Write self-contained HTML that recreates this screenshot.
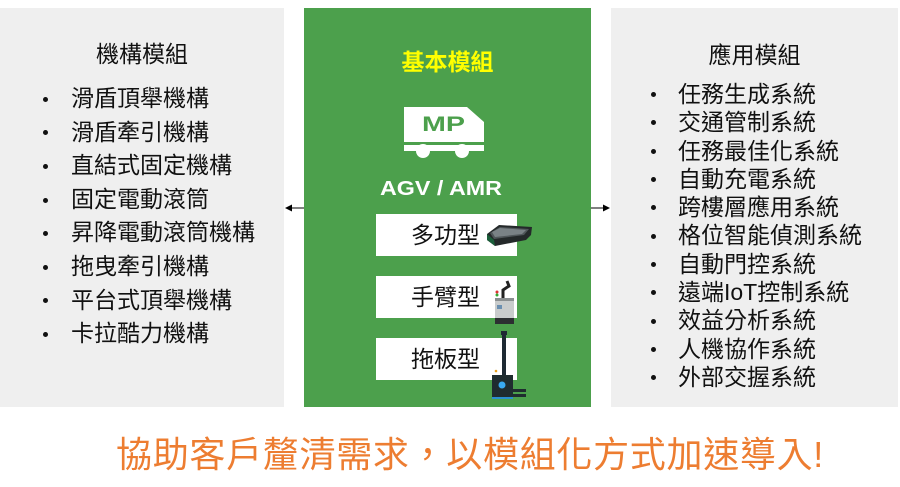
<!DOCTYPE html>
<html>
<head>
<meta charset="utf-8">
<style>
  html,body{margin:0;padding:0;}
  body{width:900px;height:487px;position:relative;background:#ffffff;overflow:hidden;
    font-family:"Liberation Sans","Noto Sans CJK TC",sans-serif;}
  .panel{position:absolute;top:8px;height:399px;}
  .grey{background:#efefef;}
  .green{background:#4ca04c;}
  .title{position:absolute;left:0;right:0;text-align:center;font-size:23px;line-height:30px;color:#111;
    font-family:"Liberation Sans","Noto Sans CJK TC",sans-serif;}
  .list{position:absolute;font-size:23px;color:#111;font-family:"Liberation Sans","Noto Sans CJK TC",sans-serif;}
  .list div{position:relative;white-space:nowrap;}
  .dot{position:absolute;width:5px;height:5px;border-radius:50%;background:#111;top:50%;margin-top:-2px;}
  .box{position:absolute;left:376px;width:141px;height:42px;background:#fff;}
  .box span{position:absolute;left:35px;top:5px;font-size:23px;line-height:32px;color:#111;
    font-family:"Liberation Sans","Noto Sans CJK TC",sans-serif;}
</style>
</head>
<body>
  <!-- left panel -->
  <div class="panel grey" style="left:0;width:284px;">
    <div class="title" style="top:31px;">機構模組</div>
  </div>
  <div class="list" style="left:71px;top:82px;line-height:33.6px;">
    <div><span class="dot" style="left:-28px;"></span>滑盾頂舉機構</div>
    <div><span class="dot" style="left:-28px;"></span>滑盾牽引機構</div>
    <div><span class="dot" style="left:-28px;"></span>直結式固定機構</div>
    <div><span class="dot" style="left:-28px;"></span>固定電動滾筒</div>
    <div><span class="dot" style="left:-28px;"></span>昇降電動滾筒機構</div>
    <div><span class="dot" style="left:-28px;"></span>拖曳牽引機構</div>
    <div><span class="dot" style="left:-28px;"></span>平台式頂舉機構</div>
    <div><span class="dot" style="left:-28px;"></span>卡拉酷力機構</div>
  </div>

  <!-- green panel -->
  <div class="panel green" style="left:304px;width:287px;">
    <div class="title" style="top:39px;color:#ffff00;font-weight:bold;">基本模組</div>
  </div>

  <!-- right panel -->
  <div class="panel grey" style="left:611px;width:287px;">
    <div class="title" style="top:32px;">應用模組</div>
  </div>
  <div class="list" style="left:678px;top:80px;line-height:28.3px;">
    <div><span class="dot" style="left:-27px;"></span>任務生成系統</div>
    <div><span class="dot" style="left:-27px;"></span>交通管制系統</div>
    <div><span class="dot" style="left:-27px;"></span>任務最佳化系統</div>
    <div><span class="dot" style="left:-27px;"></span>自動充電系統</div>
    <div><span class="dot" style="left:-27px;"></span>跨樓層應用系統</div>
    <div><span class="dot" style="left:-27px;"></span>格位智能偵測系統</div>
    <div><span class="dot" style="left:-27px;"></span>自動門控系統</div>
    <div><span class="dot" style="left:-27px;"></span>遠端IoT控制系統</div>
    <div><span class="dot" style="left:-27px;"></span>效益分析系統</div>
    <div><span class="dot" style="left:-27px;"></span>人機協作系統</div>
    <div><span class="dot" style="left:-27px;"></span>外部交握系統</div>
  </div>

  <!-- white boxes -->
  <div class="box" style="top:214px;"><span>多功型</span></div>
  <div class="box" style="top:276px;"><span>手臂型</span></div>
  <div class="box" style="top:338px;"><span>拖板型</span></div>

  <!-- SVG overlay: truck, text, arrows, icons -->
  <svg width="900" height="487" style="position:absolute;left:0;top:0;" xmlns="http://www.w3.org/2000/svg">
    <!-- truck -->
    <polygon points="404,107 467,107 484,122 484,142 404,142" fill="#ffffff"/>
    <rect x="404" y="145" width="80" height="6" fill="#ffffff"/>
    <circle cx="423" cy="151" r="7" fill="#ffffff"/>
    <circle cx="462" cy="151" r="7" fill="#ffffff"/>
    <text x="422" y="131" font-family="Liberation Sans, sans-serif" font-weight="bold" font-size="21" fill="#4ca04c" textLength="43" lengthAdjust="spacingAndGlyphs">MP</text>
    <text x="380" y="195" font-family="Liberation Sans, sans-serif" font-weight="bold" font-size="20" fill="#ffffff" textLength="122" lengthAdjust="spacingAndGlyphs">AGV / AMR</text>

    <!-- arrows -->
    <line x1="304" y1="208" x2="289" y2="208" stroke="#000" stroke-width="1"/>
    <polygon points="285,208 292,204.5 292,211.5" fill="#000"/>
    <line x1="591" y1="208" x2="606" y2="208" stroke="#000" stroke-width="1"/>
    <polygon points="610,208 603,204.5 603,211.5" fill="#000"/>

    <!-- icon 1: multi-function AGV slab -->
    <polygon points="487,234 499,225 532,227 531,235 526,240 495,246 487,240" fill="#24292a"/>
    <polygon points="490,233 500,227 529,229 524,235 494,239" fill="#50575a"/>
    <polygon points="492,232 500,228 526,230 522,234 495,237" fill="#7a8286"/>
    <polygon points="487,234 494,240 495,246 487,240" fill="#1b5e3a"/>

    <!-- icon 2: arm type -->
    <rect x="495" y="298" width="19" height="21" fill="#c9cccc"/>
    <rect x="495" y="298" width="19" height="3" fill="#8a8f90"/>
    <rect x="495" y="318" width="19" height="6" fill="#2c2f31"/>
    <rect x="497" y="305" width="5" height="4" fill="#6a8fb0"/>
    <polyline points="503,298 503,290 509,286 507,281" stroke="#222" stroke-width="3" fill="none"/>
    <circle cx="497" cy="292" r="1.5" fill="#d33"/>
    <circle cx="497" cy="295" r="1.5" fill="#3a3"/>

    <!-- icon 3: towing type -->
    <rect x="502" y="334" width="4" height="42" fill="#1e2a33"/>
    <rect x="501" y="331" width="6" height="4" fill="#1e2a33"/>
    <rect x="492" y="375" width="21" height="22" fill="#1f2c2f"/>
    <circle cx="502" cy="385" r="3.5" fill="#39a9f0"/>
    <rect x="512" y="389" width="14" height="3" fill="#1f2c2f"/>
    <rect x="512" y="394" width="14" height="3" fill="#1f2c2f"/>
    <rect x="492" y="397" width="21" height="2" fill="#2a8fd0"/>
    <circle cx="496" cy="371" r="1.3" fill="#e8a020"/>
  </svg>

  <!-- bottom slogan -->
  <div style="position:absolute;left:116px;top:437px;font-size:36px;line-height:36px;letter-spacing:0.7px;color:#ed7d31;white-space:nowrap;font-family:'Liberation Sans','Noto Sans CJK TC',sans-serif;">協助客戶釐清需求，以模組化方式加速導入!</div>
</body>
</html>
